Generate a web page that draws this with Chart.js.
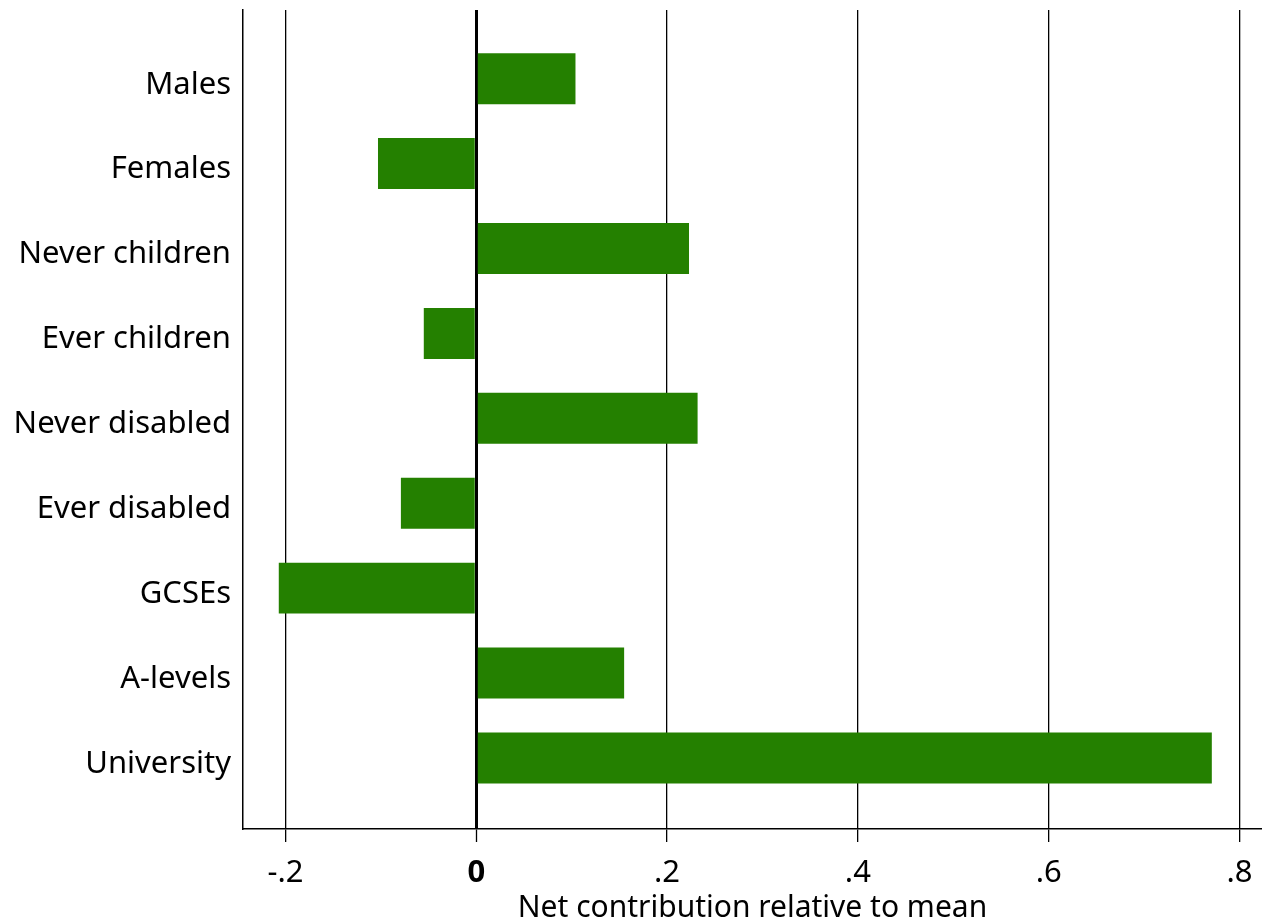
<!DOCTYPE html>
<html>
<head>
<meta charset="utf-8">
<script src="https://cdn.jsdelivr.net/npm/chart.js@4.4.1/dist/chart.umd.min.js"></script>
<style>
  html, body { margin: 0; padding: 0; background: #fff; }
  #wrap { width: 1262px; height: 922px; }
</style>
</head>
<body>
<div id="wrap"><canvas id="netChart"></canvas></div>
<script>
// ── Data ────────────────────────────────────────────
const groups = ['Males', 'Females', 'Never children', 'Ever children',
  'Never disabled', 'Ever disabled', 'GCSEs', 'A-levels', 'University'];
const netContribution = [0.104, -0.103, 0.223, -0.055, 0.232, -0.079, -0.207, 0.155, 0.771];
const xTicks = [-0.2, 0, 0.2, 0.4, 0.6, 0.8];
const xTickLabels = ['-.2', '0', '.2', '.4', '.6', '.8'];

const FONT = '"Noto Sans", "Open Sans", sans-serif';

const ctx = document.getElementById('netChart').getContext('2d');
new Chart(ctx, {
  type: 'bar',
  data: {
    datasets: [{
      data: netContribution.map((v, i) => ({ x: v, y: i })),
      backgroundColor: '#248000',
      borderWidth: 0,
      barPercentage: 0.6,
      categoryPercentage: 1
    }]
  },
  options: {
    indexAxis: 'y',
    responsive: true,
    maintainAspectRatio: false,
    animation: false,
    layout: { padding: { top: 10, left: 0, right: 0, bottom: 0 } },
    plugins: { legend: { display: false }, tooltip: { enabled: false } },
    scales: {
      x: {
        type: 'linear',
        min: -0.2445,
        max: 0.8236,
        afterBuildTicks: s => { s.ticks = xTicks.map(v => ({ value: v })); },
        afterFit: s => { s.height = 93; s.paddingLeft = 0; s.paddingRight = 0; },
        ticks: {
          color: '#000',
          padding: 13,
          font: c => ({ family: FONT, size: 31, weight: c.tick && c.tick.value === 0 ? 'bold' : 'normal' }),
          callback: (v) => xTickLabels[xTicks.indexOf(v)]
        },
        grid: {
          color: '#000',
          lineWidth: c => (c.tick && c.tick.value === 0 ? 3 : 1.3),
          drawTicks: true,
          tickLength: 13,
          tickWidth: 1.3,
          tickColor: '#000'
        },
        border: { display: true, color: '#000', width: 1.5 },
        title: {
          display: true,
          text: 'Net contribution relative to mean',
          color: '#000',
          font: { family: FONT, size: 30 },
          padding: { top: 0, bottom: -4 }
        }
      },
      y: {
        type: 'linear',
        reverse: true,
        offset: false,
        min: -0.809,
        max: 8.837,
        afterBuildTicks: s => { s.ticks = groups.map((_, i) => ({ value: i })); },
        afterFit: s => { s.width = 243; s.paddingTop = 0; s.paddingBottom = 0; },
        ticks: {
          color: '#000',
          padding: 12,
          labelOffset: 6,
          font: { family: FONT, size: 31 },
          callback: v => groups[v]
        },
        grid: { display: false, drawTicks: false },
        border: { display: true, color: '#000', width: 1.5 }
      }
    }
  }
});
</script>
</body>
</html>
